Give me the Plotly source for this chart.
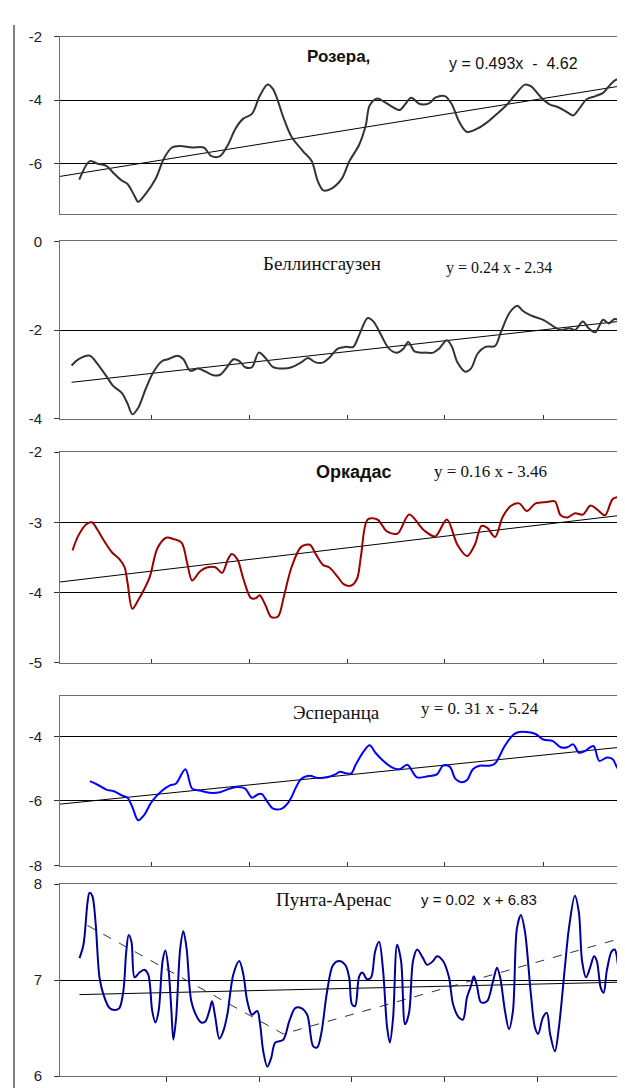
import plotly.graph_objects as go

# ---------------- data ----------------
# Rothera
rot_years = [1942.0, 1943.1, 1943.9, 1944.8, 1945.6, 1946.4, 1947.0, 1947.7, 1948.1, 1948.9,
             1949.9, 1950.8, 1951.6, 1952.4, 1953.7, 1954.9, 1955.7, 1956.6, 1957.4, 1958.2,
             1959.0, 1959.9, 1960.7, 1961.5, 1962.1, 1963.2, 1964.0, 1965.2, 1966.1, 1966.7,
             1967.3, 1968.1, 1969.2, 1970.0, 1971.0, 1971.7, 1972.1, 1972.9, 1973.7, 1975.2,
             1975.8, 1976.4, 1977.3, 1978.3, 1978.9, 1979.9, 1980.6, 1981.4, 1982.2, 1983.3,
             1984.3, 1985.3, 1986.4, 1987.2, 1988.2, 1988.8, 1989.9, 1990.7, 1991.7, 1992.6,
             1993.2, 1993.8, 1994.6, 1995.5, 1996.3, 1996.9, 1997.7, 1999.4]
rot_vals = [-6.50, -5.92, -6.00, -6.07, -6.31, -6.53, -6.64, -7.00, -7.20, -6.94,
            -6.48, -5.82, -5.49, -5.44, -5.49, -5.49, -5.76, -5.76, -5.41, -4.89,
            -4.58, -4.43, -3.87, -3.51, -3.66, -4.58, -5.15, -5.61, -5.92, -6.53,
            -6.84, -6.79, -6.48, -5.92, -5.41, -4.79, -4.17, -3.95, -4.07, -4.31,
            -4.12, -3.92, -4.12, -4.09, -3.92, -3.87, -4.12, -4.69, -5.00, -4.89,
            -4.69, -4.43, -4.12, -3.82, -3.51, -3.56, -3.92, -4.12, -4.23, -4.38,
            -4.48, -4.28, -3.97, -3.87, -3.77, -3.56, -3.35, -3.35]
rot_trend_x = [1940.0, 1999.4]
rot_trend_y = [-6.40, -3.49]

# Bellingshausen
bel_years = [1941.2, 1941.9, 1943.1, 1943.9, 1944.8, 1945.5, 1946.4, 1947.0, 1947.5, 1948.1,
             1948.9, 1949.7, 1950.6, 1951.2, 1952.2, 1952.8, 1953.5, 1954.3, 1955.1, 1955.9,
             1956.6, 1957.2, 1958.0, 1958.6, 1959.2, 1959.9, 1960.6, 1961.3, 1962.1, 1963.2,
             1964.0, 1965.0, 1965.7, 1966.5, 1967.3, 1967.9, 1968.8, 1969.6, 1970.4, 1971.0,
             1971.9, 1972.5, 1973.3, 1974.1, 1974.9, 1975.6, 1976.1, 1976.8, 1977.9, 1978.7,
             1979.3, 1980.1, 1980.6, 1981.2, 1982.0, 1982.6, 1983.3, 1984.1, 1985.1, 1985.7,
             1986.6, 1987.4, 1988.0, 1988.8, 1990.1, 1991.1, 1991.9, 1992.8, 1993.4, 1994.2,
             1994.8, 1995.5, 1996.3, 1996.9, 1997.5, 1998.4, 1999.0, 1999.4]
bel_vals = [-2.80, -2.66, -2.58, -2.77, -3.04, -3.26, -3.42, -3.66, -3.90, -3.76,
            -3.32, -2.94, -2.70, -2.66, -2.58, -2.66, -2.92, -2.87, -2.94, -3.02,
            -3.01, -2.87, -2.66, -2.70, -2.84, -2.84, -2.51, -2.63, -2.84, -2.87,
            -2.84, -2.73, -2.63, -2.73, -2.73, -2.63, -2.42, -2.38, -2.38, -2.12,
            -1.73, -1.81, -2.12, -2.42, -2.51, -2.42, -2.27, -2.49, -2.51, -2.51,
            -2.42, -2.23, -2.36, -2.73, -2.94, -2.87, -2.53, -2.38, -2.36, -2.05,
            -1.61, -1.45, -1.57, -1.67, -1.77, -1.91, -2.00, -1.96, -2.00, -1.81,
            -1.96, -2.05, -1.77, -1.85, -1.75, -1.80, -1.75, -1.75]
bel_trend_x = [1941.2, 1999.4]
bel_trend_y = [-3.18, -1.77]

# Orcadas
orc_years = [1941.3, 1941.9, 1942.7, 1943.3, 1943.9, 1944.6, 1945.4, 1946.2, 1946.7, 1947.0,
             1947.5, 1948.1, 1948.7, 1949.3, 1950.1, 1951.0, 1951.8, 1952.6, 1953.2, 1953.7,
             1954.5, 1955.3, 1956.1, 1956.8, 1957.4, 1957.8, 1958.4, 1959.0, 1959.8, 1960.3,
             1960.7, 1961.3, 1961.9, 1962.6, 1963.2, 1964.0, 1965.0, 1965.9, 1966.5, 1967.3,
             1967.9, 1968.8, 1969.4, 1970.2, 1970.8, 1971.2, 1971.9, 1972.9, 1973.9, 1975.0,
             1976.2, 1977.7, 1978.9, 1980.1, 1981.2, 1982.2, 1983.0, 1983.7, 1984.3, 1985.1,
             1985.9, 1986.8, 1987.6, 1988.4, 1989.3, 1990.5, 1991.3, 1991.9, 1992.6, 1993.4,
             1994.2, 1995.0, 1995.7, 1996.5, 1997.3, 1998.2, 1999.0, 1999.4]
orc_vals = [-3.40, -3.19, -3.03, -3.00, -3.11, -3.27, -3.43, -3.53, -3.64, -3.86,
            -4.23, -4.11, -3.96, -3.78, -3.37, -3.22, -3.24, -3.29, -3.59, -3.83,
            -3.70, -3.64, -3.64, -3.72, -3.53, -3.45, -3.53, -3.80, -4.08, -4.08,
            -4.04, -4.18, -4.35, -4.34, -4.06, -3.64, -3.35, -3.32, -3.45, -3.61,
            -3.64, -3.78, -3.88, -3.90, -3.80, -3.48, -2.96, -2.96, -3.13, -3.16,
            -2.89, -3.11, -3.20, -2.96, -3.32, -3.48, -3.32, -3.05, -3.08, -3.21,
            -2.92, -2.76, -2.73, -2.84, -2.73, -2.71, -2.70, -2.90, -2.93, -2.87,
            -2.89, -2.76, -2.82, -2.90, -2.67, -2.64, -2.67, -2.71]
orc_trend_x = [1940.0, 1999.4]
orc_trend_y = [-3.85, -2.88]

# Esperanza
esp_years = [1943.1, 1943.9, 1944.8, 1945.6, 1946.4, 1947.0, 1947.5, 1948.1, 1948.7, 1949.5,
             1950.6, 1951.4, 1952.0, 1953.0, 1953.7, 1954.5, 1955.5, 1956.6, 1957.6, 1958.4,
             1959.2, 1959.9, 1960.5, 1960.9, 1961.5, 1962.1, 1963.0, 1963.6, 1964.0, 1964.4,
             1965.0, 1965.9, 1966.7, 1967.7, 1968.6, 1969.0, 1969.6, 1970.2, 1970.6, 1971.5,
             1972.1, 1972.7, 1973.5, 1974.4, 1975.2, 1976.0, 1977.0, 1978.1, 1979.1, 1979.7,
             1980.4, 1981.0, 1981.6, 1982.2, 1982.8, 1983.5, 1984.5, 1985.1, 1986.1, 1987.0,
             1987.6, 1988.4, 1989.3, 1990.1, 1991.1, 1991.9, 1992.6, 1993.2, 1993.8, 1994.4,
             1995.3, 1995.9, 1996.7, 1997.3, 1997.9, 1998.6, 1999.2]
esp_vals = [-5.39, -5.50, -5.65, -5.70, -5.83, -5.90, -6.19, -6.60, -6.45, -6.03,
            -5.68, -5.52, -5.47, -5.02, -5.62, -5.68, -5.75, -5.73, -5.62, -5.57,
            -5.62, -5.90, -5.80, -5.78, -6.03, -6.24, -6.24, -6.08, -5.88, -5.62,
            -5.32, -5.22, -5.29, -5.27, -5.17, -5.10, -5.14, -5.15, -4.91, -4.46,
            -4.28, -4.51, -4.76, -4.96, -5.02, -4.88, -5.27, -5.24, -5.17, -4.91,
            -4.94, -5.32, -5.42, -5.35, -5.02, -4.91, -4.91, -4.84, -4.30, -3.95,
            -3.87, -3.87, -3.93, -4.10, -4.15, -4.34, -4.34, -4.25, -4.51, -4.46,
            -4.30, -4.76, -4.66, -4.71, -5.02, -4.97, -4.78]
esp_trend_x = [1940.0, 1999.4]
esp_trend_y = [-6.10, -4.30]

# Punta Arenas
pun_years = [1940.60, 1941.03, 1941.47, 1941.68, 1941.98, 1942.33, 1942.76, 1943.19, 1943.84, 1944.48,
             1944.91, 1945.34, 1945.65, 1945.91, 1946.21, 1946.55, 1947.07, 1947.59, 1948.02, 1948.45,
             1948.79, 1949.14, 1949.57, 1949.87, 1950.22, 1950.52, 1950.73, 1951.03, 1951.47, 1951.81,
             1952.16, 1952.67, 1953.32, 1953.75, 1954.18, 1954.61, 1954.91, 1955.26, 1955.69, 1956.12,
             1956.55, 1957.20, 1957.84, 1958.28, 1958.71, 1959.22, 1959.78, 1960.09, 1960.43, 1960.86,
             1961.29, 1961.72, 1962.59, 1963.23, 1963.88, 1964.53, 1965.17, 1965.82, 1966.25, 1966.68,
             1967.33, 1967.97, 1968.62, 1969.27, 1969.70, 1970.00, 1970.34, 1970.78, 1971.12, 1971.64,
             1972.07, 1972.50, 1972.93, 1973.36, 1973.79, 1974.09, 1974.44, 1974.87, 1975.30, 1975.73,
             1976.16, 1976.59, 1977.03, 1977.67, 1978.10, 1978.75, 1979.18, 1979.83, 1980.47, 1980.91,
             1981.55, 1981.98, 1982.41, 1982.84, 1983.15, 1983.49, 1983.92, 1984.57, 1985.22, 1985.65,
             1985.99, 1986.51, 1986.94, 1987.37, 1987.80, 1988.23, 1988.66, 1989.31, 1989.74, 1990.09,
             1990.60, 1991.03, 1991.38, 1991.90, 1992.33, 1992.97, 1993.41, 1994.05, 1994.48, 1994.83,
             1995.26, 1995.69, 1996.12, 1996.42, 1996.85, 1997.16, 1997.50, 1998.02, 1998.36, 1998.79,
             1999.14]
pun_vals = [7.23, 7.37, 7.81, 7.91, 7.88, 7.61, 7.03, 6.85, 6.71, 6.69,
            6.71, 6.89, 7.30, 7.47, 7.40, 7.03, 7.08, 7.11, 7.06, 6.68,
            6.56, 6.68, 7.20, 7.31, 7.10, 6.68, 6.38, 6.61, 7.33, 7.51,
            7.33, 6.78, 6.61, 6.56, 6.57, 6.68, 6.78, 6.61, 6.39, 6.47,
            6.64, 7.06, 7.20, 7.06, 6.78, 6.64, 6.68, 6.54, 6.26, 6.10,
            6.19, 6.35, 6.38, 6.57, 6.71, 6.71, 6.64, 6.31, 6.30, 6.44,
            6.89, 7.16, 7.20, 7.16, 7.03, 6.75, 6.73, 7.04, 7.08, 7.01,
            7.03, 7.30, 7.40, 7.10, 6.51, 6.35, 6.61, 7.37, 7.20, 6.54,
            6.66, 7.20, 7.32, 7.23, 7.16, 7.20, 7.25, 7.20, 7.03, 6.75,
            6.61, 6.59, 6.82, 6.94, 7.04, 6.94, 6.77, 6.78, 6.99, 7.13,
            7.03, 6.68, 6.49, 6.68, 7.54, 7.68, 7.51, 6.85, 6.51, 6.44,
            6.61, 6.66, 6.44, 6.26, 6.51, 7.13, 7.54, 7.88, 7.71, 7.20,
            7.03, 7.13, 7.25, 7.20, 6.92, 6.87, 7.10, 7.30, 7.32, 7.10,
            6.96]
pun_trend_x = [1940.6, 1999.1]
pun_trend_y = [6.85, 6.98]
pun_dash_x = [1941.47, 1962.59, 1998.79]
pun_dash_y = [7.57, 6.44, 7.43]

X_TICKS = [1949.5, 1959.6, 1969.8, 1979.9, 1990.1]
X_TICKS_PUN = [1950, 1960, 1970, 1980, 1990, 2000]

# ---------------- figure ----------------
W, H = 625, 1088
fig = go.Figure()

panels = [
    dict(x=rot_years, y=rot_vals, tx=rot_trend_x, ty=rot_trend_y, color="#333333",
         yr=[-7.58, -2], ytv=[-2, -4, -6], dom=(20, 200)),
    dict(x=bel_years, y=bel_vals, tx=bel_trend_x, ty=bel_trend_y, color="#333333",
         yr=[-4, 0], ytv=[0, -2, -4], dom=(228, 408)),
    dict(x=orc_years, y=orc_vals, tx=orc_trend_x, ty=orc_trend_y, color="#990000",
         yr=[-5, -2], ytv=[-2, -3, -4, -5], dom=(442, 656)),
    dict(x=esp_years, y=esp_vals, tx=esp_trend_x, ty=esp_trend_y, color="#0000ff",
         yr=[-8, -2.76], ytv=[-4, -6, -8], dom=(690, 862)),
    dict(x=pun_years, y=pun_vals, tx=pun_trend_x, ty=pun_trend_y, color="#000099",
         yr=[6, 8], ytv=[8, 7, 6], dom=(881, 1076)),
]

tick_font = dict(family="Liberation Sans, Arial, sans-serif", size=15, color="#222222")
axis_line = "#6e6e6e"

for i, p in enumerate(panels):
    n = "" if i == 0 else str(i + 1)
    xa, ya = "x" + n, "y" + n
    is_pun = (i == 4)
    if is_pun:
        fig.add_trace(go.Scatter(x=pun_dash_x, y=pun_dash_y, mode="lines", xaxis=xa, yaxis=ya,
                                 line=dict(color="#333333", width=1, dash="dash"),
                                 hoverinfo="skip", showlegend=False))
    fig.add_trace(go.Scatter(x=p["tx"], y=p["ty"], mode="lines", xaxis=xa, yaxis=ya,
                             line=dict(color="#000000", width=1), hoverinfo="skip",
                             showlegend=False))
    fig.add_trace(go.Scatter(x=p["x"], y=p["y"], mode="lines", xaxis=xa, yaxis=ya,
                             line=dict(color=p["color"], width=2, shape="spline", smoothing=0.9),
                             showlegend=False))
    top, bot = p["dom"]
    xdom = [52 / W, 622 / W] if is_pun else [52 / W, 1.0]
    xr = [1938.5, 2000.0] if is_pun else [1940.0, 1999.4]
    xaxis = dict(domain=xdom, range=xr, anchor=ya, showgrid=False, zeroline=False,
                 showline=True, linecolor=axis_line, linewidth=1, mirror=True,
                 showticklabels=False, fixedrange=True)
    if i == 0:
        xaxis.update(ticks="")
    elif is_pun:
        xaxis.update(tickvals=X_TICKS_PUN, ticks="outside", ticklen=5, tickcolor="#333333")
    else:
        xaxis.update(tickvals=X_TICKS, ticks="inside", ticklen=4, tickcolor="#333333")
    yaxis = dict(domain=[1 - bot / H, 1 - top / H], range=p["yr"], anchor=xa,
                 tickvals=p["ytv"], ticktext=[str(v) if v >= 0 else "-" + str(abs(v)) for v in p["ytv"]],
                 showgrid=True, gridcolor="#000000", gridwidth=1, zeroline=False,
                 showline=True, linecolor=axis_line, linewidth=1, mirror=is_pun,
                 ticks="outside", ticklen=5, tickcolor="#333333", tickfont=tick_font,
                 ticklabelstandoff=9, fixedrange=True)
    fig.update_layout(**{"xaxis" + n: xaxis, "yaxis" + n: yaxis})

sans = "Liberation Sans, Arial, sans-serif"
serif = "Liberation Serif, Times New Roman, serif"
ann = [
    ("Розера,", 330, 40, sans, 17, True),
    ("y = 0.493x  -  4.62", 505, 47, sans, 16, False),
    ("Беллинсгаузен", 314, 250, serif, 19, False),
    ("y = 0.24 x - 2.34", 491, 255, serif, 16, False),
    ("Оркадас", 345, 462, sans, 18, True),
    ("y = 0.16 x - 3.46", 482, 462, serif, 17, False),
    ("Эсперанца", 328, 707, serif, 19, False),
    ("y = 0. 31 x - 5.24", 472, 702, serif, 17, False),
    ("Пунта-Аренас", 325, 897, serif, 19, False),
    ("y = 0.02  x + 6.83", 471, 897, sans, 15, False),
]
for text, px, py, fam, size, bold in ann:
    fig.add_annotation(xref="paper", yref="paper", x=px / W, y=1 - py / H,
                       text=f"<b>{text}</b>" if bold else text, showarrow=False,
                       xanchor="center", yanchor="middle",
                       font=dict(family=fam, size=size, color="#111111"))

# left frame line of the slide
fig.add_shape(type="line", xref="paper", yref="paper", x0=6 / W, x1=6 / W, y0=0, y1=1 - 8 / H,
              line=dict(color="#808080", width=2))

fig.update_layout(width=W, height=H, autosize=False, margin=dict(l=0, r=0, t=0, b=0),
                  paper_bgcolor="white", plot_bgcolor="white", showlegend=False)

fig.write_html("out.html")
